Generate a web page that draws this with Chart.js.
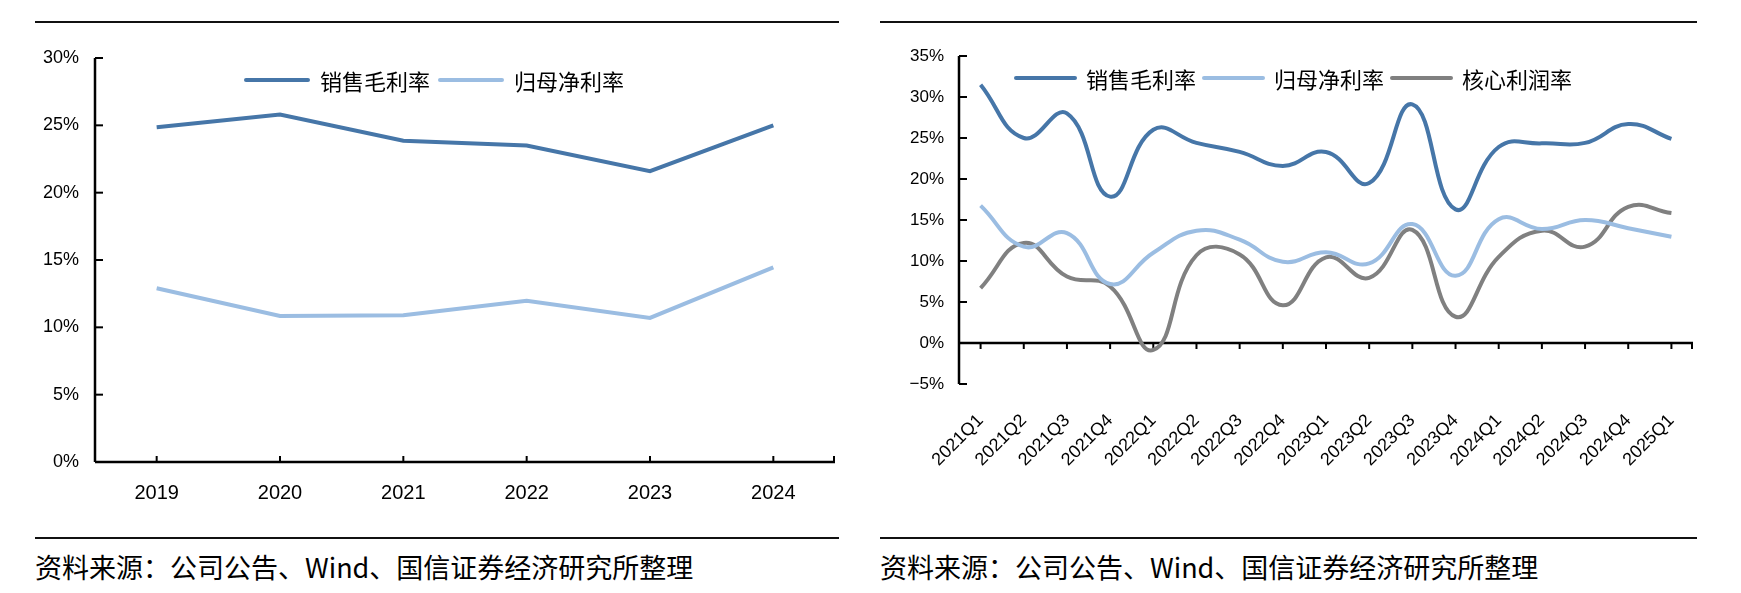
<!DOCTYPE html>
<html>
<head>
<meta charset="utf-8">
<script src="https://cdn.jsdelivr.net/npm/chart.js@4.4.0/dist/chart.umd.min.js"></script>
<style>
  body { margin: 0; width: 1741px; height: 593px; background: #fff; position: relative; overflow: hidden;
         font-family: "Noto Sans CJK SC", sans-serif; color: #000; }
  .rule { position: absolute; height: 2px; background: #111; }
  .box { position: absolute; top: 0; height: 530px; }
  .legend { position: absolute; display: flex; align-items: center; font-size: 22px; line-height: 30px; white-space: nowrap; }
  .legend i { display: inline-block; height: 4px; border-radius: 2px; }
  .src { position: absolute; top: 548px; font-size: 27px; line-height: 38px; white-space: nowrap; }
</style>
</head>
<body>
<div class="rule" style="left:35px;width:804px;top:21px"></div>
<div class="rule" style="left:880px;width:817px;top:21px"></div>
<div class="rule" style="left:35px;width:804px;top:537px"></div>
<div class="rule" style="left:880px;width:817px;top:537px"></div>

<div class="box" style="left:0;width:870px"><canvas id="chart-year"></canvas></div>
<div class="box" style="left:870px;width:871px"><canvas id="chart-quarter"></canvas></div>

<div class="legend" id="legend-year" style="left:244px;top:65px"></div>
<div class="legend" id="legend-quarter" style="left:1014px;top:63px"></div>

<div class="src" style="left:35px">资料来源：公司公告、Wind、国信证券经济研究所整理</div>
<div class="src" style="left:880px">资料来源：公司公告、Wind、国信证券经济研究所整理</div>

<script>
// Margins of the company, annual (left) and quarterly (right), in %.
const SERIES_NAMES = ["销售毛利率", "归母净利率", "核心利润率"];
const COLORS = ["#4676a8", "#9bbde2", "#808080"];

const yearLabels = ["2019", "2020", "2021", "2022", "2023", "2024"];
const yearGross  = [24.85, 25.8, 23.85, 23.5, 21.6, 25.0];
const yearNet    = [12.9, 10.85, 10.9, 11.98, 10.7, 14.45];

const quarterLabels = ["2021Q1", "2021Q2", "2021Q3", "2021Q4", "2022Q1", "2022Q2", "2022Q3", "2022Q4",
                       "2023Q1", "2023Q2", "2023Q3", "2023Q4", "2024Q1", "2024Q2", "2024Q3", "2024Q4", "2025Q1"];
const quarterGross = [31.5, 25.0, 28.0, 17.85, 26.0, 24.4, 23.3, 21.6, 23.3, 19.5, 29.1, 16.3, 23.9, 24.35, 24.4, 26.7, 24.9];
const quarterNet   = [16.75, 11.75, 13.4, 7.2, 11.0, 13.7, 12.6, 9.9, 11.06, 9.7, 14.5, 8.2, 15.1, 13.9, 15.0, 14.0, 12.95];
const quarterCore  = [6.7, 12.2, 8.1, 6.9, -0.85, 10.7, 10.8, 4.6, 10.45, 7.95, 13.8, 3.2, 10.5, 13.7, 11.75, 16.6, 15.85];

const AXIS_FONT = "'Liberation Sans', Arial, sans-serif";

// Black axis line at zero, y axis line, and the short inward tick marks.
const axisMarks = {
  id: "axisMarks",
  beforeDatasetsDraw(chart, args, opts) {
    const { ctx, chartArea: a, scales: { x, y } } = chart;
    const y0 = y.getPixelForValue(0);
    const line = (x1, y1, x2, y2) => { ctx.beginPath(); ctx.moveTo(x1, y1); ctx.lineTo(x2, y2); ctx.stroke(); };
    ctx.save();
    ctx.strokeStyle = "#000";
    ctx.lineWidth = 2.5;
    line(a.left, a.top, a.left, a.bottom);
    line(a.left, y0, a.right, y0);
    ctx.lineWidth = 2;
    y.ticks.forEach((t, i) => {
      const py = y.getPixelForTick(i);
      line(a.left, py, a.left + 8, py);
    });
    const dir = opts.down ? 1 : -1;
    x.ticks.forEach((t, i) => {
      const px = x.getPixelForTick(i);
      line(px, y0, px, y0 + dir * 6);
    });
    line(a.right - 1, y0, a.right - 1, y0 + dir * 6);
    ctx.restore();
  }
};

function buildLegend(id, count) {
  const el = document.getElementById(id);
  el.innerHTML = SERIES_NAMES.slice(0, count).map((name, i) =>
    `<i style="width:${id === "legend-year" ? 66 : 63}px;background:${COLORS[i]};margin-right:${id === "legend-year" ? 10 : 9}px"></i>` +
    `<span style="margin-right:${id === "legend-year" ? 8 : 6}px">${name}</span>`
  ).join("");
}

function lineDataset(label, data, i, tension) {
  return {
    label, data,
    borderColor: COLORS[i],
    backgroundColor: COLORS[i],
    borderWidth: 4,
    pointRadius: 0,
    tension,
    fill: false,
  };
}

function makeChart(canvasId, cfg) {
  return new Chart(document.getElementById(canvasId), {
    type: "line",
    data: { labels: cfg.labels, datasets: cfg.datasets },
    options: {
      responsive: true,
      maintainAspectRatio: false,
      animation: false,
      layout: { padding: cfg.padding },
      plugins: { legend: { display: false }, tooltip: { enabled: false }, axisMarks: { down: cfg.ticksDown } },
      scales: {
        x: {
          offset: true,
          grid: { display: false, drawTicks: false },
          border: { display: false },
          ticks: {
            color: "#000",
            autoSkip: false,
            minRotation: cfg.rotation,
            maxRotation: cfg.rotation,
            padding: cfg.xPad,
            font: { family: AXIS_FONT, size: cfg.xFont },
          },
          afterFit: s => { s.height = cfg.xHeight; },
        },
        y: {
          min: cfg.min, max: cfg.max,
          grid: { display: false, drawTicks: false },
          border: { display: false },
          ticks: {
            stepSize: 5,
            color: "#000",
            padding: cfg.yPad,
            font: { family: AXIS_FONT, size: cfg.yFont },
            callback: v => (v < 0 ? "\u2212" + Math.abs(v) : v) + "%",
          },
          afterFit: s => { s.width = cfg.yWidth; },
        },
      },
    },
    plugins: [axisMarks],
  });
}

buildLegend("legend-year", 2);
buildLegend("legend-quarter", 3);

makeChart("chart-year", {
  labels: yearLabels,
  datasets: [
    lineDataset(SERIES_NAMES[0], yearGross, 0, 0),
    lineDataset(SERIES_NAMES[1], yearNet, 1, 0),
  ],
  min: 0, max: 30,
  padding: { top: 58, right: 35, left: 0, bottom: 0 },
  yWidth: 95, xHeight: 68, yPad: 16, xPad: 19,
  xFont: 20, yFont: 18, rotation: 0, ticksDown: false,
});

makeChart("chart-quarter", {
  labels: quarterLabels,
  datasets: [
    lineDataset(SERIES_NAMES[0], quarterGross, 0, 0.45),
    lineDataset(SERIES_NAMES[1], quarterNet, 1, 0.45),
    lineDataset(SERIES_NAMES[2], quarterCore, 2, 0.45),
  ],
  min: -5, max: 35,
  padding: { top: 56, right: 48, left: 0, bottom: 0 },
  yWidth: 89, xHeight: 146, yPad: 15, xPad: 26,
  xFont: 18, yFont: 17, rotation: 45, ticksDown: true,
});
</script>
</body>
</html>
